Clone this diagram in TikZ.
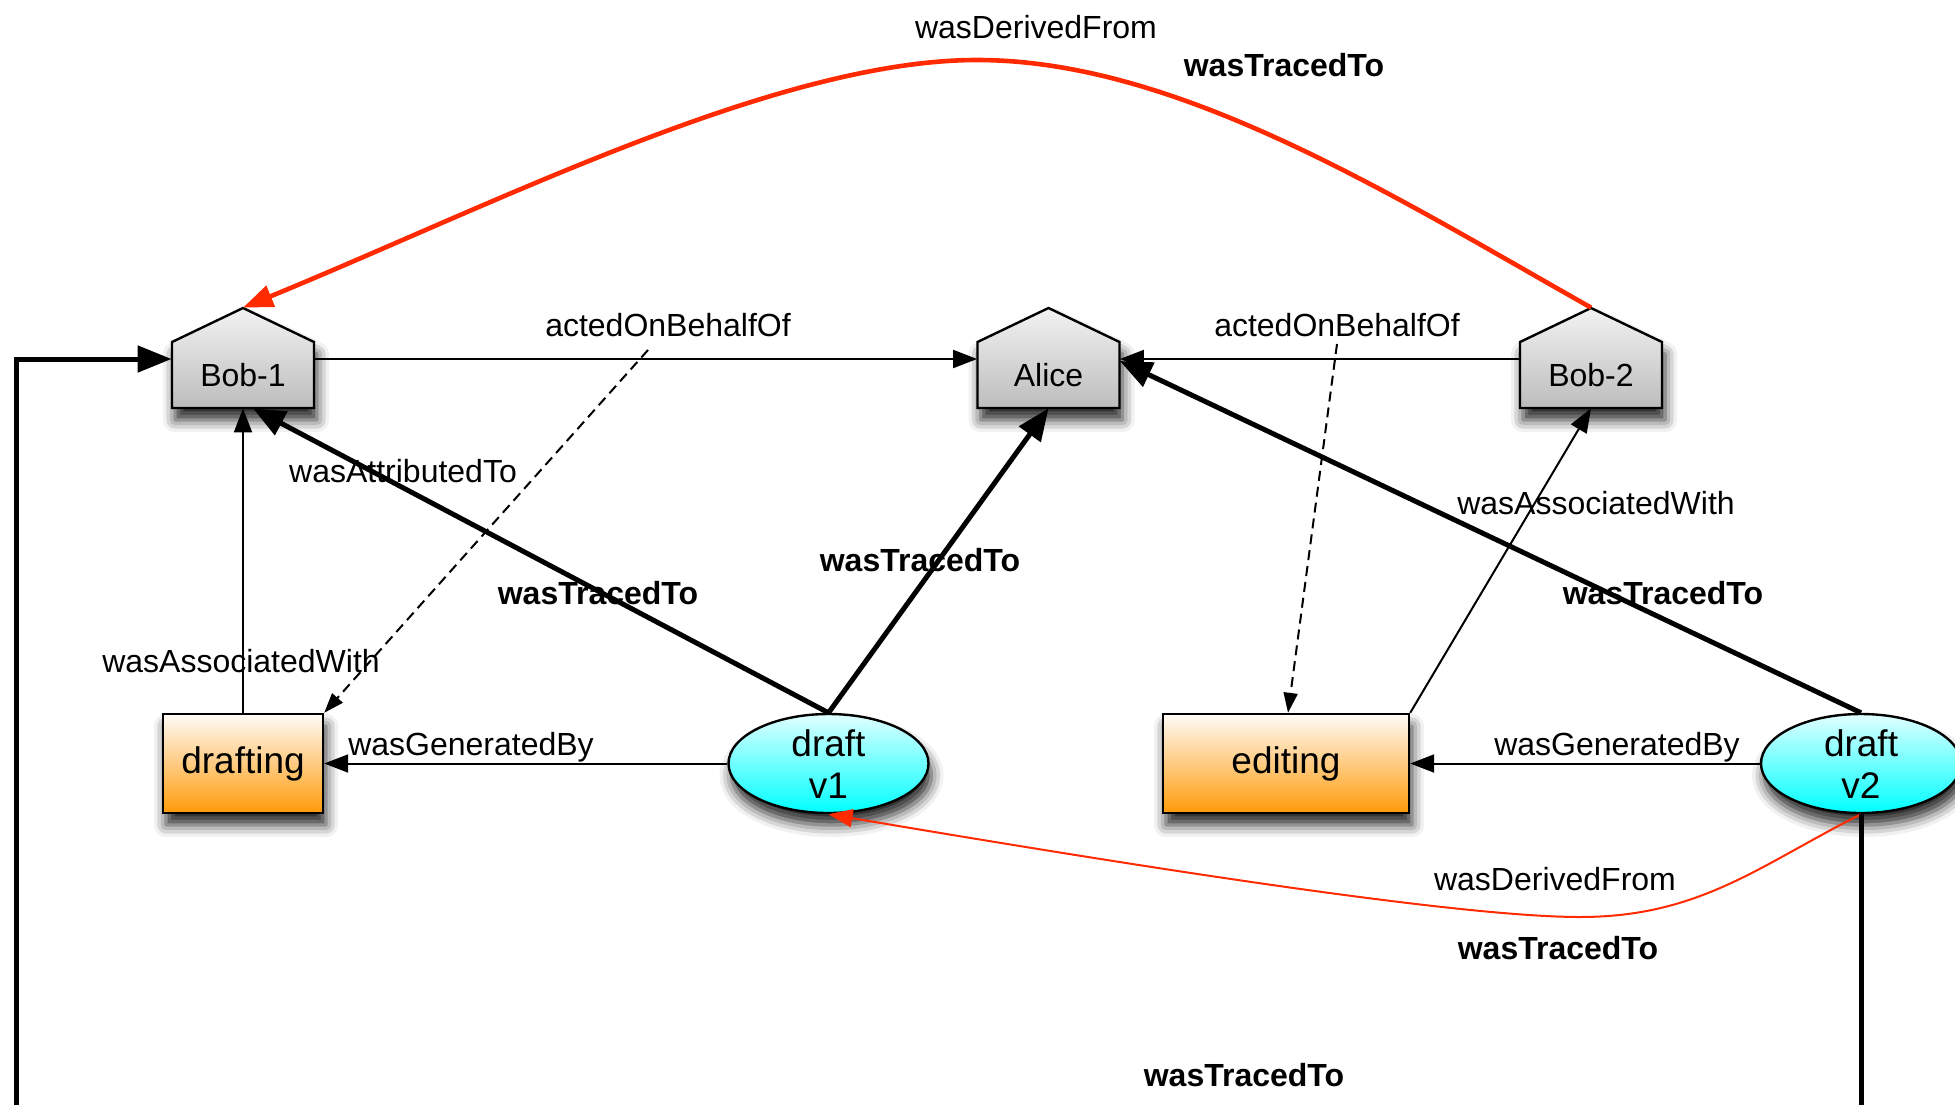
\documentclass[tikz,border=0pt]{standalone}
\usepackage{fontspec}
\setmainfont{Liberation Sans}
\usetikzlibrary{arrows.meta,shapes.geometric,shadows.blur}
\definecolor{provred}{HTML}{FF2A00}
\definecolor{actorange}{HTML}{FF9A0A}
\definecolor{entcyan}{HTML}{00FFFF}
\newcommand{\agenthouse}[3]{%
  \path[agentshape] (#2-71,408) -- (#2-71,342) -- (#2,308) -- (#2+71,342) -- (#2+71,408) -- cycle;
  \node[agentnode] (#1) at (#2,375) {#3};}
\begin{document}
\begin{tikzpicture}[x=0.5pt,y=-0.5pt,
  lbl/.style={font=\fontsize{16}{19}\selectfont, inner sep=0pt, text height=11.5pt, text depth=0pt},
  blbl/.style={lbl, font=\fontsize{16}{19}\selectfont\bfseries},
  shadowed/.style={blur shadow={shadow xshift=1.5pt, shadow yshift=-6pt, shadow blur radius=6pt, shadow opacity=85}},
  agentshape/.style={draw=black, line width=1.2pt, line join=miter, top color=white!95!black, bottom color=white!74!black, shadowed},
  agentnode/.style={minimum width=71pt, minimum height=33pt, inner sep=0pt, font=\fontsize{16}{19}\selectfont},
  activity/.style={draw, rectangle, line width=1.2pt, top color=white!97!actorange, bottom color=actorange, minimum height=49.5pt, inner sep=0pt, font=\fontsize{18.5}{22}\selectfont, text height=13.5pt, text depth=3.5pt, shadowed},
  entity/.style={draw, ellipse, line width=1.2pt, top color=white!88!entcyan, bottom color=entcyan, minimum width=100pt, minimum height=49.5pt, inner sep=0pt, shadowed,
    label={[font=\fontsize{18.5}{21}\selectfont, align=center, yshift=-0.5pt]center:#1}},
  opaqueink/.style={fill opacity=1, draw opacity=1, color=black},
  thinarrow/.style={opaqueink, line width=1pt, -{Triangle[length=12pt,width=9pt,fill=black]}},
  thickarrow/.style={opaqueink, line width=2.5pt, -{Triangle[length=16pt,width=13pt,fill=black]}},
  dasharrow/.style={opaqueink, line width=1pt, dash pattern=on 5pt off 3pt, -{Triangle[length=10pt,width=7pt,fill=black]}},
  redthick/.style={opaqueink, color=provred, line width=2.3pt, -{Triangle[length=15pt,width=11pt,fill=provred]}},
  redthin/.style={opaqueink, color=provred, line width=1pt, -{Triangle[length=12pt,width=9pt,fill=provred]}},
  tracedline/.style={opaqueink, line width=2.5pt, line join=miter}
]
\useasboundingbox (0,0) rectangle (1955,1104);

% agents
\agenthouse{bob1}{243}{Bob-1}
\agenthouse{alice}{1048.5}{Alice}
\agenthouse{bob2}{1591}{Bob-2}

% activities
\node[activity, minimum width=80pt] (drafting) at (243,763.5) {drafting};
\node[activity, minimum width=123pt] (editing) at (1286,763.5) {editing};

% entities
\node[entity={draft\\v1}] (v1) at (828.5,763.5) {};
\node[entity={draft\\v2}] (v2) at (1861,763.5) {};

% labels
\node[lbl] at (1036,27) {wasDerivedFrom};
\node[blbl] at (1284,65) {wasTracedTo};
\node[lbl] at (668,325) {actedOnBehalfOf};
\node[lbl] at (1337,325) {actedOnBehalfOf};
\node[lbl] at (403,471) {wasAttributedTo};
\node[blbl] at (598,593) {wasTracedTo};
\node[blbl] at (920,560) {wasTracedTo};
\node[lbl] at (241,661) {wasAssociatedWith};
\node[lbl] at (471,744) {wasGeneratedBy};
\node[lbl] at (1596,503) {wasAssociatedWith};
\node[blbl] at (1663,593) {wasTracedTo};
\node[lbl] at (1617,744) {wasGeneratedBy};
\node[lbl] at (1555,879) {wasDerivedFrom};
\node[blbl] at (1558,948) {wasTracedTo};
\node[blbl] at (1244,1075) {wasTracedTo};

% connectors
\coordinate (aob1) at (648,350);
\coordinate (aob2) at (1337,344);
\coordinate (leftend) at (16,1110);
\coordinate (rightend) at (1861,1110);

\draw[thinarrow] ([yshift=8pt]bob1.east) -- ([yshift=8pt]alice.west);
\draw[thinarrow] ([yshift=8pt]bob2.west) -- ([yshift=8pt]alice.east);
\draw[dasharrow] (aob1) -- (drafting.north east);
\draw[dasharrow] (aob2) -- ([xshift=1pt]editing.north);
\draw[thinarrow] (drafting.north) -- (bob1.south);
\draw[thinarrow] (editing.north east) -- (bob2.south);
\draw[thinarrow] (v1.west) -- (drafting.east);
\draw[thinarrow] (v2.west) -- (editing.east);
\draw[thickarrow] (v1.north) -- ([xshift=5pt]bob1.south);
\draw[thickarrow] (v1.north) -- (alice.south);
\draw[thickarrow] (v2.north) -- ([yshift=7pt]alice.east);

\draw[redthick] ([yshift=17pt]bob2.north) .. controls (1390,194) and (1177,60) .. (977,60)
  .. controls (777,60) and (493,205) .. ([yshift=17pt]bob1.north);
\draw[redthin] (v2.south) .. controls (1760,865) and (1700,917) .. (1580,917)
  .. controls (1450,917) and (1100,860) .. (v1.south);

\draw[tracedline, -{Triangle[length=17pt,width=13pt,fill=black]}] (leftend) |- ([yshift=8pt]bob1.west);
\draw[tracedline] (v2.south) -- (rightend);
\end{tikzpicture}
\end{document}
